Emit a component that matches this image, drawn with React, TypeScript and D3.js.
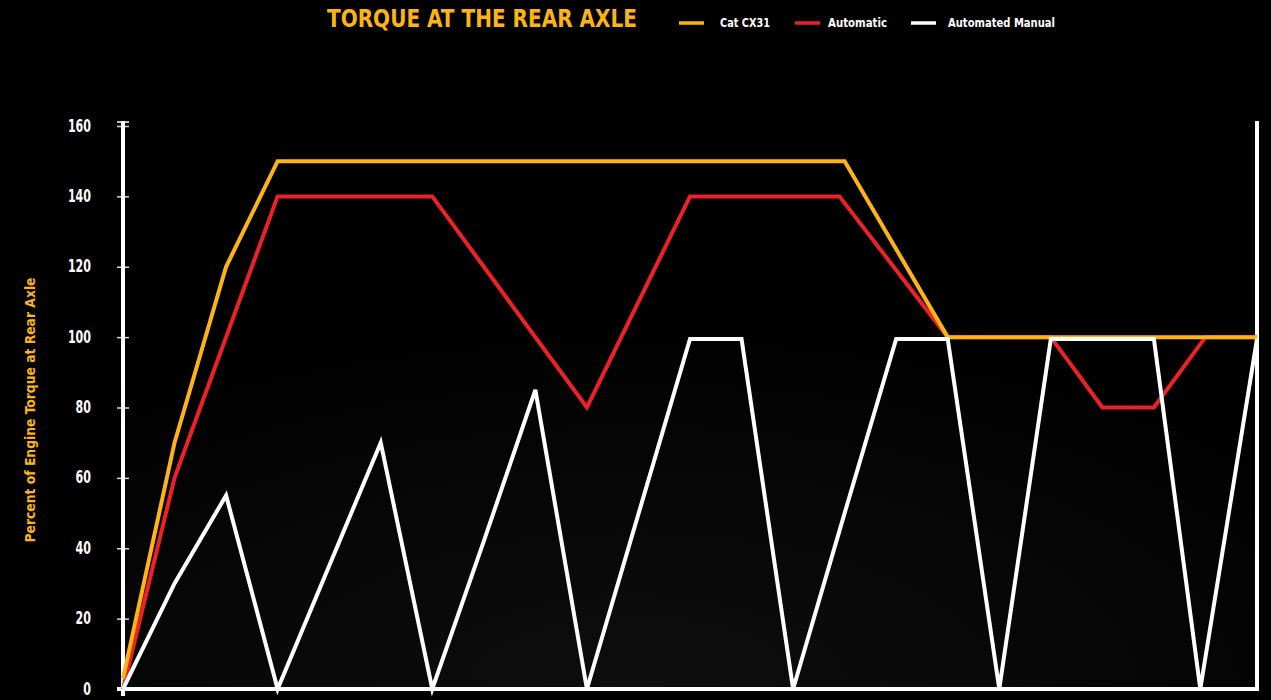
import React, { useRef, useEffect } from "react";
import * as d3 from "d3";

// x positions are evenly spaced steps along the duty cycle (no labels shown)
const catSteps = [0, 1, 2, 3, 14, 16, 22];
const catValues = [3, 70, 120, 150, 150, 100, 100];

const autoSteps = [0, 1, 2, 3, 6, 9, 11, 13.9, 16, 18, 19, 20, 21, 22];
const autoValues = [0, 60, 100, 140, 140, 80, 140, 140, 100, 100, 80, 80, 100, 100];

const manualSteps = [0, 1, 2, 3, 5, 6, 7, 8, 9, 11, 12, 13, 14, 15, 16, 17, 18, 20, 20.9, 22];
const manualValues = [0, 30, 55, 0, 70, 0, 42, 85, 0, 99.5, 99.5, 0, 50, 99.5, 99.5, 0, 99.5, 99.5, 0, 99.5];

const yTicks = [0, 20, 40, 60, 80, 100, 120, 140, 160];

const YELLOW = "#FDB515";
const RED = "#EE2126";
const WHITE = "#FFFFFF";
const FONT = "'Liberation Sans Narrow', 'DejaVu Sans Condensed', 'Roboto', sans-serif";

const series = [
  { name: "Automatic", color: RED, steps: autoSteps, values: autoValues },
  { name: "Cat CX31", color: YELLOW, steps: catSteps, values: catValues },
  { name: "Automated Manual", color: WHITE, steps: manualSteps, values: manualValues },
];

const legendItems = [
  { name: "Cat CX31", color: YELLOW, sx: 679, tx: 720, tw: 50 },
  { name: "Automatic", color: RED, sx: 795, tx: 828, tw: 59 },
  { name: "Automated Manual", color: WHITE, sx: 911, tx: 948, tw: 107 },
];

export default function App() {
  const ref = useRef<SVGSVGElement | null>(null);
  const width = 1271;
  const height = 700;

  useEffect(() => {
    document.body.style.margin = "0";
    document.body.style.background = "#000";
    if (!ref.current) return;
    const svg = d3.select(ref.current);
    svg.selectAll("*").remove();

    const x = d3.scaleLinear().domain([0, 22]).range([123, 1257]);
    const y = d3.scaleLinear().domain([0, 160]).range([689, 126]);

    svg.append("rect").attr("width", width).attr("height", height).attr("fill", "#000");

    // faint lightening towards the bottom of the plot
    const defs = svg.append("defs");
    const grad = defs
      .append("radialGradient")
      .attr("id", "bg")
      .attr("cx", "0.45")
      .attr("cy", "1")
      .attr("r", "0.8");
    grad.append("stop").attr("offset", "0%").attr("stop-color", "#0e0e0e");
    grad.append("stop").attr("offset", "100%").attr("stop-color", "#000");
    svg
      .append("rect")
      .attr("x", x(0))
      .attr("y", y(140))
      .attr("width", x(22) - x(0))
      .attr("height", y(0) - y(140))
      .attr("fill", "url(#bg)");

    // title
    svg
      .append("text")
      .attr("x", 327)
      .attr("y", 27)
      .attr("fill", YELLOW)
      .attr("font-family", FONT)
      .attr("font-weight", "bold")
      .attr("font-size", 24)
      .attr("textLength", 310)
      .attr("lengthAdjust", "spacingAndGlyphs")
      .text("TORQUE AT THE REAR AXLE");

    // legend
    const lg = svg.append("g");
    legendItems.forEach((d) => {
      lg.append("line")
        .attr("x1", d.sx)
        .attr("x2", d.sx + 25)
        .attr("y1", 23)
        .attr("y2", 23)
        .attr("stroke", d.color)
        .attr("stroke-width", 3.5);
      lg.append("text")
        .attr("x", d.tx)
        .attr("y", 27)
        .attr("fill", "#fff")
        .attr("font-family", FONT)
        .attr("font-weight", "bold")
        .attr("font-size", 13)
        .attr("textLength", d.tw)
        .attr("lengthAdjust", "spacingAndGlyphs")
        .text(d.name);
    });

    // y axis label
    svg
      .append("text")
      .attr("transform", `translate(35,${410}) rotate(-90)`)
      .attr("text-anchor", "middle")
      .attr("fill", YELLOW)
      .attr("font-family", FONT)
      .attr("font-weight", "bold")
      .attr("font-size", 14)
      .attr("textLength", 265)
      .attr("lengthAdjust", "spacingAndGlyphs")
      .text("Percent of Engine Torque at Rear Axle");

    // y axis
    const axis = svg
      .append("g")
      .attr("transform", `translate(${x(0)},0)`)
      .call(d3.axisLeft(y).tickValues(yTicks).tickSize(6).tickPadding(26));
    axis.select(".domain").remove();
    axis
      .selectAll(".tick line")
      .attr("x1", -6)
      .attr("x2", 6)
      .attr("stroke", "#d8d8d8")
      .attr("stroke-width", 1.5);
    axis
      .selectAll<SVGTextElement, number>(".tick text")
      .attr("fill", "#fff")
      .attr("font-family", FONT)
      .attr("font-weight", "bold")
      .attr("font-size", 17)
      .attr("dy", "0.3em")
      .attr("textLength", (d) => String(d).length * 7.7)
      .attr("lengthAdjust", "spacingAndGlyphs");

    svg
      .append("line")
      .attr("x1", x(0))
      .attr("x2", x(0))
      .attr("y1", 121)
      .attr("y2", 696)
      .attr("stroke", WHITE)
      .attr("stroke-width", 4);
    svg
      .append("line")
      .attr("x1", x(0) - 6)
      .attr("x2", x(0) + 6)
      .attr("y1", 122)
      .attr("y2", 122)
      .attr("stroke", WHITE)
      .attr("stroke-width", 1.5);
    svg
      .append("line")
      .attr("x1", x(22))
      .attr("x2", x(22))
      .attr("y1", 121)
      .attr("y2", 690)
      .attr("stroke", WHITE)
      .attr("stroke-width", 4);
    svg
      .append("line")
      .attr("x1", x(0) - 6)
      .attr("x2", x(22) + 2)
      .attr("y1", y(0))
      .attr("y2", y(0))
      .attr("stroke", WHITE)
      .attr("stroke-width", 4);

    const line = d3
      .line<[number, number]>()
      .x((d) => x(d[0]))
      .y((d) => y(d[1]));

    series.forEach((s) => {
      const pts = s.steps.map((st, i) => [st, s.values[i]] as [number, number]);
      svg
        .append("path")
        .attr("d", line(pts))
        .attr("fill", "none")
        .attr("stroke", s.color)
        .attr("stroke-width", 4)
        .attr("stroke-linejoin", "miter");
    });
  }, []);

  return <svg ref={ref} width={width} height={height} style={{ display: "block" }} />;
}
